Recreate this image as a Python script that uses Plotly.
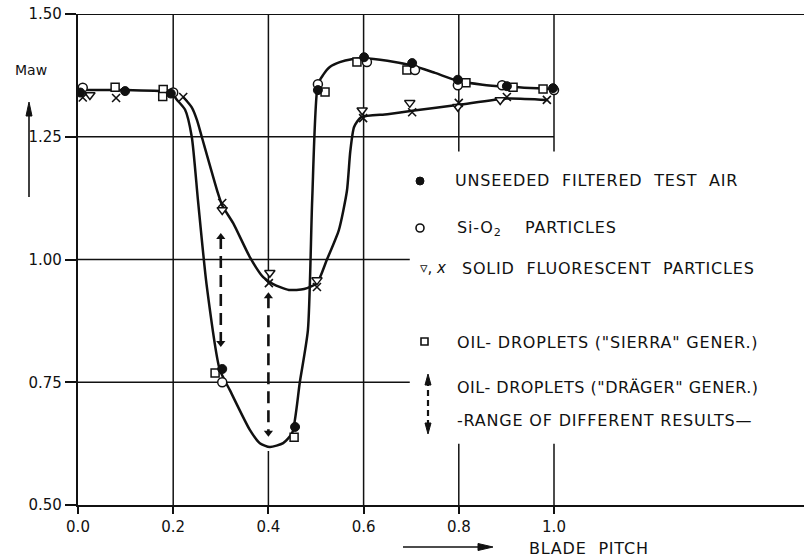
import plotly.graph_objects as go

# ---------------- data ----------------
# unseeded filtered test air (filled circles)
air_x = [0.005, 0.099, 0.195, 0.303, 0.456, 0.504, 0.601, 0.702, 0.798, 0.901, 0.998]
air_y = [1.340, 1.343, 1.338, 0.777, 0.659, 1.345, 1.412, 1.400, 1.366, 1.353, 1.349]
# Si-O2 particles (open circles)
sio2_x = [0.010, 0.200, 0.303, 0.504, 0.607, 0.708, 0.798, 0.891, 1.000]
sio2_y = [1.350, 1.340, 0.750, 1.357, 1.402, 1.386, 1.355, 1.355, 1.345]
# solid fluorescent particles (triangles and crosses)
tri_x = [0.025, 0.303, 0.403, 0.502, 0.597, 0.697, 0.798, 0.887]
tri_y = [1.335, 1.101, 0.973, 0.958, 1.304, 1.319, 1.311, 1.325]
crs_x = [0.010, 0.080, 0.221, 0.303, 0.401, 0.502, 0.599, 0.702, 0.800, 0.901, 0.985]
crs_y = [1.330, 1.329, 1.331, 1.115, 0.952, 0.944, 1.288, 1.300, 1.319, 1.331, 1.325]
# oil droplets, "Sierra" generator (open squares)
sierra_x = [0.078, 0.179, 0.178, 0.288, 0.454, 0.519, 0.586, 0.691, 0.815, 0.914, 0.977]
sierra_y = [1.351, 1.346, 1.332, 0.769, 0.638, 1.341, 1.402, 1.386, 1.360, 1.351, 1.347]
# oil droplets, "Draeger" generator: range of different results
drager_x = [0.300, 0.400]
drager_top = [1.046, 0.925]
drager_bottom = [0.830, 0.647]

# hand-drawn fair curves
curve_a_x = [0.000, 0.100, 0.195, 0.208, 0.225, 0.239, 0.252, 0.270, 0.298, 0.319, 0.361,
             0.382, 0.403, 0.431, 0.450, 0.466, 0.483, 0.492, 0.504, 0.515, 0.529, 0.550,
             0.575, 0.601, 0.650, 0.702, 0.750, 0.798, 0.850, 0.901, 1.000]
curve_a_y = [1.345, 1.345, 1.340, 1.325, 1.305, 1.250, 1.121, 0.950, 0.775, 0.734, 0.653,
             0.626, 0.618, 0.626, 0.647, 0.750, 0.856, 1.121, 1.357, 1.376, 1.392, 1.402,
             1.408, 1.410, 1.405, 1.395, 1.380, 1.364, 1.356, 1.352, 1.347]
curve_b_x = [0.221, 0.239, 0.250, 0.260, 0.294, 0.303, 0.326, 0.361, 0.389, 0.410, 0.443,
             0.475, 0.502, 0.523, 0.548, 0.565, 0.572, 0.580, 0.595, 0.650, 0.702, 0.800,
             0.901, 0.985]
curve_b_y = [1.331, 1.310, 1.284, 1.250, 1.135, 1.110, 1.074, 1.005, 0.964, 0.950, 0.938,
             0.940, 0.952, 1.000, 1.060, 1.140, 1.220, 1.270, 1.290, 1.296, 1.303, 1.315,
             1.328, 1.325]

x_ticks = [0.0, 0.2, 0.4, 0.6, 0.8, 1.0]
x_tick_text = ["0.0", "0.2", "0.4", "0.6", "0.8", "1.0"]
y_ticks = [0.50, 0.75, 1.00, 1.25, 1.50]
y_tick_text = ["0.50", "0.75", "1.00", "1.25", "1.50"]

legend_rows = [
    "UNSEEDED  FILTERED  TEST  AIR",
    "Si-O<sub>2</sub>    PARTICLES",
    "SOLID  FLUORESCENT  PARTICLES",
    "OIL- DROPLETS (\"SIERRA\" GENER.)",
    "OIL- DROPLETS (\"DRÄGER\" GENER.)",
    "-RANGE OF DIFFERENT RESULTS—",
]

# ---------------- layout geometry ----------------
W, H = 804, 557
ML, MR, MT, MB = 78, 0, 14, 52
PW, PH = W - ML - MR, H - MT - MB
X_PER_UNIT = 476.0
FONT = "DejaVu Sans"
INK = "#111111"


def px(xp):
    return (xp - ML) / PW


def py(yp):
    return (H - MB - yp) / PH


def spaced(t, sp=1.0):
    return f'<span style="letter-spacing:{sp}px">{t}</span>'


fig = go.Figure()

# curves
for cx, cy in [(curve_a_x, curve_a_y), (curve_b_x, curve_b_y)]:
    fig.add_trace(go.Scatter(x=cx, y=cy, mode="lines",
                             line=dict(color=INK, width=2.5, shape="spline", smoothing=0.6),
                             hoverinfo="skip", showlegend=False))

# dashed range arrows
for i in range(len(drager_x)):
    fig.add_trace(go.Scatter(x=[drager_x[i], drager_x[i]], y=[drager_top[i], drager_bottom[i]],
                             mode="lines", line=dict(color=INK, width=2.6, dash="12px,7px"),
                             showlegend=False, hoverinfo="skip"))
fig.add_trace(go.Scatter(x=drager_x, y=drager_top, mode="markers",
                         marker=dict(symbol="triangle-up", size=8, color=INK),
                         showlegend=False))
fig.add_trace(go.Scatter(x=drager_x, y=drager_bottom, mode="markers",
                         marker=dict(symbol="triangle-down", size=8, color=INK),
                         showlegend=False))

# markers
fig.add_trace(go.Scatter(x=sierra_x, y=sierra_y, mode="markers", name="sierra",
                         marker=dict(symbol="square", size=8, color="white",
                                     line=dict(color=INK, width=1.5)), showlegend=False))
fig.add_trace(go.Scatter(x=sio2_x, y=sio2_y, mode="markers", name="sio2",
                         marker=dict(symbol="circle", size=9, color="white",
                                     line=dict(color=INK, width=1.5)), showlegend=False))
fig.add_trace(go.Scatter(x=air_x, y=air_y, mode="markers", name="air",
                         marker=dict(symbol="circle", size=9, color=INK,
                                     line=dict(color=INK, width=1)), showlegend=False))
fig.add_trace(go.Scatter(x=tri_x, y=tri_y, mode="markers", name="tri",
                         marker=dict(symbol="triangle-down", size=9, color="white",
                                     line=dict(color=INK, width=1.5)), showlegend=False))
fig.add_trace(go.Scatter(x=crs_x, y=crs_y, mode="markers", name="cross",
                         marker=dict(symbol="x-thin-open", size=8, color=INK,
                                     line=dict(color=INK, width=1.6)), showlegend=False))

# ---------------- grid / frame shapes ----------------
shapes = []
gl = dict(color=INK, width=1.5)
# top frame line across whole width
shapes.append(dict(type="line", xref="paper", yref="y", x0=0, x1=1, y0=1.5, y1=1.5,
                   line=dict(color=INK, width=2.2), layer="below"))
# horizontal grid
shapes.append(dict(type="line", xref="x", yref="y", x0=0, x1=1.0, y0=1.25, y1=1.25, line=gl, layer="below"))
for yv in [1.00, 0.75]:
    shapes.append(dict(type="line", xref="x", yref="y", x0=0, x1=0.697, y0=yv, y1=yv, line=gl, layer="below"))
# vertical grid
for xv in [0.2, 0.6]:
    shapes.append(dict(type="line", xref="x", yref="y", x0=xv, x1=xv, y0=0.5, y1=1.5, line=gl, layer="below"))
for y0, y1 in [(0.95, 1.5), (0.5, 0.61)]:
    shapes.append(dict(type="line", xref="x", yref="y", x0=0.4, x1=0.4, y0=y0, y1=y1, line=gl, layer="below"))
for xv in [0.8, 1.0]:
    for y0, y1 in [(1.22, 1.5), (0.5, 0.625)]:
        shapes.append(dict(type="line", xref="x", yref="y", x0=xv, x1=xv, y0=y0, y1=y1, line=gl, layer="below"))

# legend glyphs
shapes.append(dict(type="circle", xref="paper", yref="paper", x0=px(416), x1=px(424),
                   y0=py(185), y1=py(177), fillcolor=INK, line=dict(color=INK, width=1)))
shapes.append(dict(type="circle", xref="paper", yref="paper", x0=px(416), x1=px(424),
                   y0=py(232), y1=py(224), fillcolor="white", line=dict(color=INK, width=1.6)))
shapes.append(dict(type="rect", xref="paper", yref="paper", x0=px(421), x1=px(428),
                   y0=py(345), y1=py(338), fillcolor="white", line=dict(color=INK, width=1.6)))
shapes.append(dict(type="line", xref="paper", yref="paper", x0=px(428), x1=px(428),
                   y0=py(380), y1=py(428), line=dict(color=INK, width=2.2, dash="6px,4px")))
shapes.append(dict(type="path", xref="paper", yref="paper",
                   path=f"M {px(425)} {py(385)} L {px(431)} {py(385)} L {px(428)} {py(374)} Z",
                   fillcolor=INK, line=dict(color=INK, width=1)))
shapes.append(dict(type="path", xref="paper", yref="paper",
                   path=f"M {px(425)} {py(423)} L {px(431)} {py(423)} L {px(428)} {py(434)} Z",
                   fillcolor=INK, line=dict(color=INK, width=1)))
# y-axis arrow (Maw)
shapes.append(dict(type="line", xref="paper", yref="paper", x0=px(29), x1=px(29),
                   y0=py(197), y1=py(110), line=dict(color=INK, width=1.6)))
shapes.append(dict(type="path", xref="paper", yref="paper",
                   path=f"M {px(26)} {py(116)} L {px(32)} {py(116)} L {px(29)} {py(102)} Z",
                   fillcolor=INK, line=dict(color=INK, width=1)))
# x-axis arrow (blade pitch)
shapes.append(dict(type="line", xref="paper", yref="paper", x0=px(403), x1=px(482),
                   y0=py(547), y1=py(547), line=dict(color=INK, width=1.6)))
shapes.append(dict(type="path", xref="paper", yref="paper",
                   path=f"M {px(478)} {py(543.5)} L {px(478)} {py(550.5)} L {px(493)} {py(547)} Z",
                   fillcolor=INK, line=dict(color=INK, width=1)))

# ---------------- text ----------------
ann = []
tf = dict(family=FONT, size=16, color=INK)
row_y = [181, 228, 268, 342, 387, 420]
row_x = [453, 455, 460, 455, 455, 455]
row_sp = [0.8, 0.8, 0.8, 0.8, 0.5, 0.8]
for t, xx, yy, sp in zip(legend_rows, row_x, row_y, row_sp):
    ann.append(dict(text=spaced(t, sp), x=px(xx), y=py(yy), xref="paper", yref="paper",
                    xanchor="left", yanchor="middle", showarrow=False, font=tf))
ann.append(dict(text="▿, <i>x</i>", x=px(418), y=py(268), xref="paper", yref="paper",
                xanchor="left", yanchor="middle", showarrow=False,
                font=dict(family=FONT, size=15, color=INK)))
ann.append(dict(text="Maw", x=px(13), y=py(70), xref="paper", yref="paper",
                xanchor="left", yanchor="middle", showarrow=False,
                font=dict(family=FONT, size=14, color=INK)))
ann.append(dict(text=spaced("BLADE  PITCH", 0.8), x=px(527), y=py(548), xref="paper", yref="paper",
                xanchor="left", yanchor="middle", showarrow=False, font=tf))

fig.update_layout(
    width=W, height=H,
    margin=dict(l=ML, r=MR, t=MT, b=MB, pad=0),
    paper_bgcolor="white", plot_bgcolor="white",
    shapes=shapes, annotations=ann,
    xaxis=dict(range=[0, PW / X_PER_UNIT], tickvals=x_ticks, ticktext=x_tick_text,
               showgrid=False, zeroline=False, showline=True, linecolor=INK, linewidth=2.2,
               ticks="outside", ticklen=7, tickwidth=1.5, tickcolor=INK,
               tickfont=dict(family=FONT, size=15, color=INK)),
    yaxis=dict(range=[0.5, 1.5], tickvals=y_ticks, ticktext=y_tick_text,
               showgrid=False, zeroline=False, showline=True, linecolor=INK, linewidth=2.2,
               ticks="outside", ticklen=11, tickwidth=1.5, tickcolor=INK,
               tickfont=dict(family=FONT, size=15, color=INK)),
    showlegend=False,
)

fig.write_html("out.html")
